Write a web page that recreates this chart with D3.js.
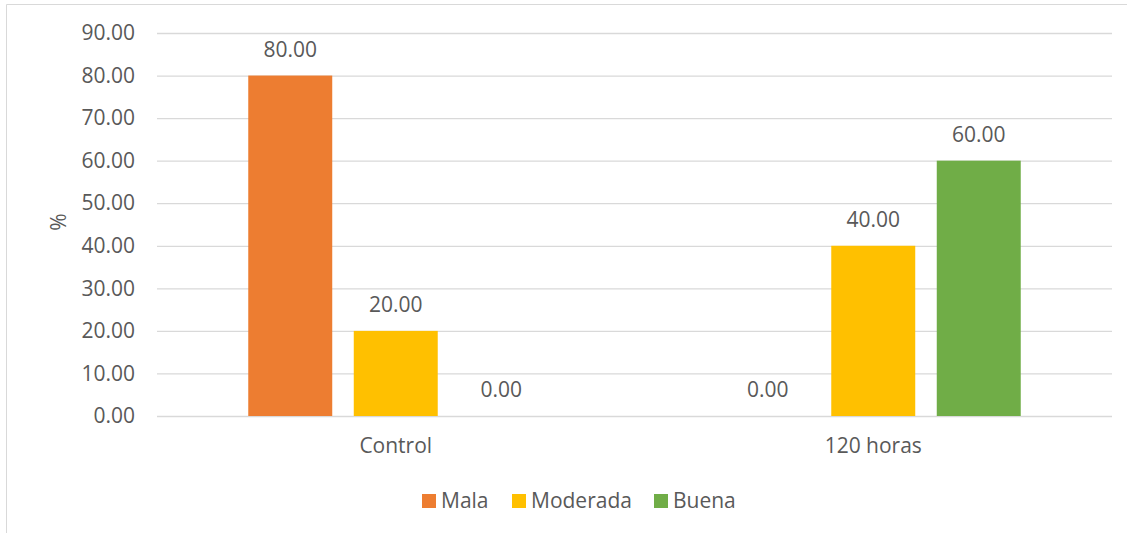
<!DOCTYPE html>
<html>
<head>
<meta charset="utf-8">
<script src="https://cdn.jsdelivr.net/npm/d3@7"></script>
<style>
body { margin: 0; background: #fff; }
text { font-family: "Open Sans", sans-serif; fill: #595959; }
</style>
</head>
<body>
<svg id="chart" width="1136" height="533"></svg>
<script>
var categories = ["Control", "120 horas"];
var seriesNames = ["Mala", "Moderada", "Buena"];
var mala = [80, 0];
var moderada = [20, 40];
var buena = [0, 60];
var yTicks = [0, 10, 20, 30, 40, 50, 60, 70, 80, 90];
var colors = ["#ED7D31", "#FFC000", "#70AD47"];

var seriesValues = [mala, moderada, buena];

var svg = d3.select("#chart");
var margin = {top: 33, left: 157, right: 24, bottom: 117};
var width = 1136 - margin.left - margin.right,
    height = 533 - margin.top - margin.bottom;

// chart border (only top and left visible)
svg.append("line").attr("x1", 6.5).attr("x2", 1127).attr("y1", 4.5).attr("y2", 4.5)
    .attr("stroke", "#d9d9d9");
svg.append("line").attr("x1", 6.5).attr("x2", 6.5).attr("y1", 4.5).attr("y2", 533)
    .attr("stroke", "#d9d9d9");

var g = svg.append("g").attr("transform", "translate(" + margin.left + "," + margin.top + ")");

var y = d3.scaleLinear().domain([0, 90]).range([height, 0]);
var x0 = d3.scaleBand().domain(categories).range([0, width]).padding(0);
var x1 = d3.scaleBand().domain(seriesNames).range([0, x0.bandwidth()])
    .paddingInner(0.204).paddingOuter(0.865);

// gridlines
var yAxis = d3.axisLeft(y).tickValues(yTicks).tickSize(-width).tickPadding(22)
    .tickFormat(d3.format(".2f"));
var gY = g.append("g").call(yAxis);
gY.select(".domain").remove();
gY.selectAll(".tick line").attr("stroke", "#d9d9d9").attr("stroke-width", 1.3);
gY.selectAll(".tick text").attr("font-size", 21).style("fill", "#595959")
    .attr("font-family", "Open Sans");

// bars
var groups = g.selectAll(".grp").data(categories).enter().append("g")
    .attr("transform", function(d) { return "translate(" + x0(d) + ",0)"; });

groups.each(function(cat, ci) {
    var row = seriesNames.map(function(s, si) { return {s: s, v: seriesValues[si][ci], c: colors[si]}; });
    var sel = d3.select(this);
    sel.selectAll("rect").data(row).enter().append("rect")
        .attr("x", function(d) { return x1(d.s); })
        .attr("width", x1.bandwidth())
        .attr("y", function(d) { return y(d.v); })
        .attr("height", function(d) { return height - y(d.v); })
        .attr("fill", function(d) { return d.c; });
    sel.selectAll(".lbl").data(row).enter().append("text")
        .attr("x", function(d) { return x1(d.s) + x1.bandwidth() / 2; })
        .attr("y", function(d) { return y(d.v) - 19; })
        .attr("text-anchor", "middle")
        .attr("font-size", 21)
        .text(function(d) { return d3.format(".2f")(d.v); });
});

// category labels
var xAxis = d3.axisBottom(x0).tickSize(0).tickPadding(22);
var gX = g.append("g").attr("transform", "translate(0," + height + ")").call(xAxis);
gX.select(".domain").remove();
gX.selectAll(".tick text").attr("font-size", 21).style("fill", "#595959")
    .attr("font-family", "Open Sans");

// y axis title
svg.append("text")
    .attr("transform", "translate(66,222) rotate(-90)")
    .attr("text-anchor", "middle")
    .attr("font-size", 21)
    .text("%");

// legend
var legendX = [422, 512, 654];
var legend = svg.append("g");
seriesNames.forEach(function(s, i) {
    legend.append("rect").attr("x", legendX[i]).attr("y", 494).attr("width", 14).attr("height", 14)
        .attr("fill", colors[i]);
    legend.append("text").attr("x", legendX[i] + 19).attr("y", 508)
        .attr("font-size", 21).text(s);
});
</script>
</body>
</html>
